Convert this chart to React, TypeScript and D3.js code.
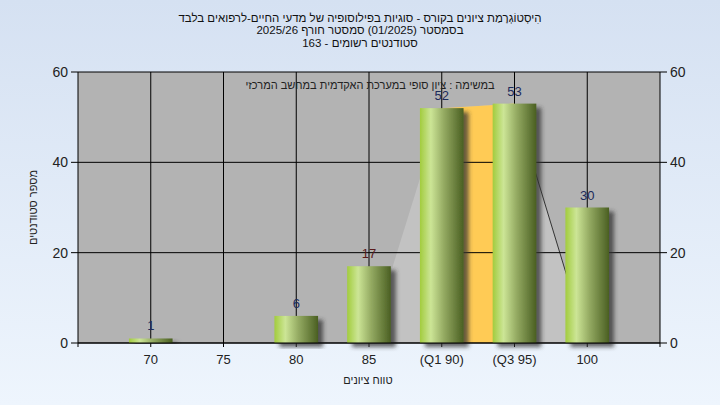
import React from "react";
import * as d3 from "d3";

const titleLines = [
  "הִיסְטוֹגְרָמַת ציונים בקורס - סוגיות בפילוסופיה של מדעי החיים-לרפואים בלבד",
  "בסמסטר  (01/2025)  סמסטר חורף 2025/26",
  "סטודנטים רשומים - 163",
];
const subtitle = "במשימה : ציון סופי במערכת האקדמית במחשב המרכזי";
const xLabel = "טווח ציונים";
const yLabel = "מספר סטודנטים";
const categories = ["70", "75", "80", "85", "(Q1 90)", "(Q3 95)", "100"];
const counts = [1, 0, 6, 17, 52, 53, 30];
const spread = [0, 0, 0, 0, 52, 53, 0];
const yTicks = [0, 20, 40, 60];
const q1Index = 4;
const q3Index = 5;

const W = 720;
const H = 405;
const plot = { left: 78, right: 660, top: 72, bottom: 343 };

export default function App() {
  const x = d3
    .scalePoint<string>()
    .domain(categories)
    .range([plot.left, plot.right])
    .padding(1);
  const y = d3.scaleLinear().domain([0, 60]).range([plot.bottom, plot.top]);
  const barW = x.step() * 0.6;

  const pts = categories.map((c, i) => ({ x: x(c) as number, v: spread[i] }));
  const firstIdx = spread.findIndex((v) => v > 0) - 1;
  const lastIdx = spread.length - 1;
  const areaPts = pts.slice(firstIdx, lastIdx + 1);
  const area = d3
    .area<{ x: number; v: number }>()
    .x((d) => d.x)
    .y0(y(0))
    .y1((d) => y(d.v));
  const line = d3
    .line<{ x: number; v: number }>()
    .x((d) => d.x)
    .y((d) => y(d.v));
  const orangePts = pts.slice(q1Index, q3Index + 1);

  const font = "'Liberation Sans', Arial, sans-serif";

  return (
    <svg
      width={W}
      height={H}
      style={{ position: "fixed", left: 0, top: 0 }}
      fontFamily={font}
    >
      <defs>
        <linearGradient id="bg" x1="0" y1="0" x2="0" y2="1">
          <stop offset="0" stopColor="#d5e1f2" />
          <stop offset="1" stopColor="#eef5fd" />
        </linearGradient>
        <linearGradient id="bar" x1="0" y1="0" x2="1" y2="0">
          <stop offset="0" stopColor="#a2cc3e" />
          <stop offset="0.25" stopColor="#cce596" />
          <stop offset="0.55" stopColor="#94aa62" />
          <stop offset="1" stopColor="#4a5f22" />
        </linearGradient>
        <filter id="shadow" x="-30%" y="-10%" width="160%" height="130%">
          <feDropShadow dx="5" dy="4" stdDeviation="2" floodColor="#303030" floodOpacity="0.75" />
        </filter>
      </defs>
      <rect x={0} y={0} width={W} height={H} fill="url(#bg)" />

      {titleLines.map((t, i) => (
        <text
          key={i}
          x={360}
          y={21.5 + i * 12.5}
          textAnchor="middle"
          fontSize={11.5}
          fill="#111"
          direction="rtl"
        >
          {t}
        </text>
      ))}

      <rect
        x={plot.left}
        y={plot.top}
        width={plot.right - plot.left}
        height={plot.bottom - plot.top}
        fill="#b3b3b3"
      />
      <path d={area(areaPts) || ""} fill="#c2c2c2" />
      <path d={area(orangePts) || ""} fill="#ffcb55" />
      <path
        d={line(pts.slice(q3Index, lastIdx + 1)) || ""}
        fill="none"
        stroke="#333"
        strokeWidth={1}
      />

      {yTicks.map((t) => (
        <g key={t}>
          <line x1={plot.left - 7} x2={plot.right + 7} y1={y(t)} y2={y(t)} stroke="#000" strokeWidth={1} />
          <text x={plot.left - 10} y={y(t) + 5} textAnchor="end" fontSize={14} fill="#222">
            {t}
          </text>
          <text x={plot.right + 10} y={y(t) + 5} textAnchor="start" fontSize={14} fill="#222">
            {t}
          </text>
        </g>
      ))}
      {categories.map((c) => (
        <g key={c}>
          <line x1={x(c)} x2={x(c)} y1={plot.top} y2={plot.bottom + 4} stroke="#000" strokeWidth={1} />
          <text x={x(c)} y={plot.bottom + 21} textAnchor="middle" fontSize={13} fill="#222">
            {c}
          </text>
        </g>
      ))}
      <line x1={plot.left} x2={plot.left} y1={plot.top} y2={plot.bottom + 4} stroke="#000" />
      <line x1={plot.right} x2={plot.right} y1={plot.top} y2={plot.bottom + 4} stroke="#000" />

      <text x={370} y={89} textAnchor="middle" fontSize={11} fill="#222" direction="rtl">
        {subtitle}
      </text>

      {categories.map((c, i) =>
        counts[i] > 0 ? (
          <rect
            key={c}
            x={(x(c) as number) - barW / 2}
            y={y(counts[i])}
            width={barW}
            height={y(0) - y(counts[i])}
            fill="url(#bar)"
            filter="url(#shadow)"
          />
        ) : null
      )}
      {categories.map((c, i) =>
        counts[i] > 0 ? (
          <text
            key={c}
            x={x(c)}
            y={y(counts[i]) - 8}
            textAnchor="middle"
            fontSize={13}
            fill={counts[i] === 17 ? "#5a1a1a" : "#1c2a5a"}
          >
            {counts[i]}
          </text>
        ) : null
      )}

      <line x1={plot.left} x2={plot.right} y1={plot.bottom} y2={plot.bottom} stroke="#000" />

      <text x={368} y={384} textAnchor="middle" fontSize={11} fill="#222" direction="rtl">
        {xLabel}
      </text>
      <text
        transform={`translate(37,${(plot.top + plot.bottom) / 2}) rotate(-90)`}
        textAnchor="middle"
        fontSize={11}
        fill="#222"
        direction="rtl"
      >
        {yLabel}
      </text>
    </svg>
  );
}
